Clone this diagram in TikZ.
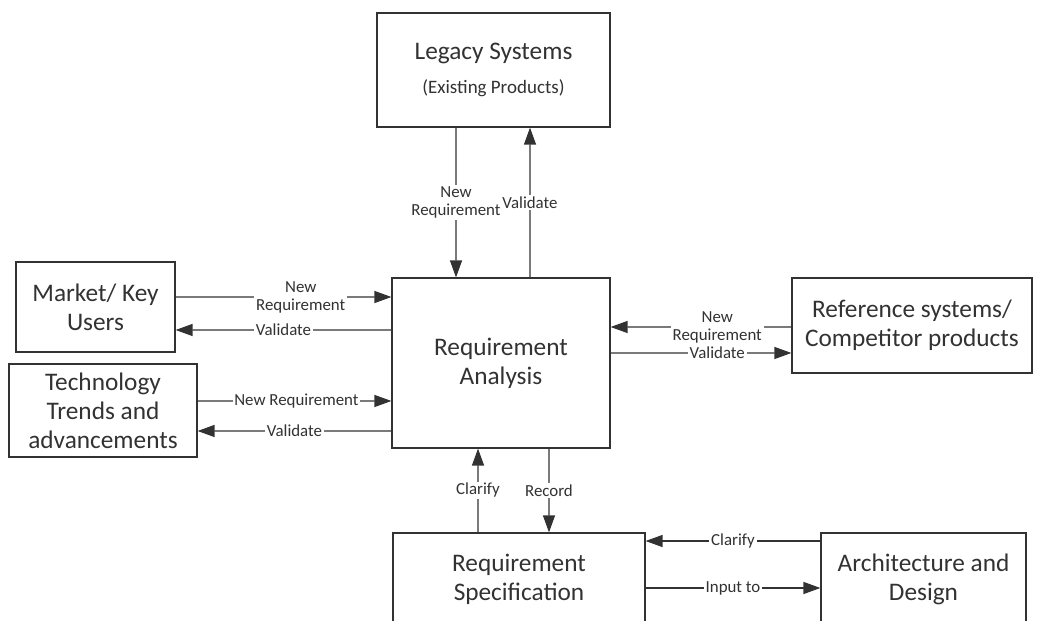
\documentclass[tikz,border=0pt]{standalone}
\usepackage{fontspec}
\setmainfont{Carlito}
\usetikzlibrary{arrows.meta}
\definecolor{inkgray}{RGB}{50,50,50}
\tikzset{
    box/.style={rectangle, draw=inkgray, line width=0.7pt, text=inkgray, align=center, font=\fontsize{14.4}{16.5}\selectfont},
    arr/.style={-{Triangle[length=0.34cm, width=0.24cm]}, line width=0.7pt, color=inkgray},
    lbl/.style={fill=white, inner sep=1pt, align=center, text=inkgray, font=\fontsize{9.6}{10.2}\selectfont}
}
\begin{document}
\begin{tikzpicture}[x=0.02cm, y=-0.02cm]
    \useasboundingbox (0,0) rectangle (1042,621);
    \clip (0,0) rectangle (1042,621);
    % boxes
    \node[box, minimum width=4.66cm, minimum height=2.28cm] (legacy) at (493.5,70) {Legacy Systems\\[3pt]{\fontsize{10.8}{12}\selectfont (Existing Products)}};
    \node[box, minimum width=4.36cm, minimum height=3.4cm] (ra) at (501,363) {Requirement\\Analysis};
    \node[box, minimum width=3.18cm, minimum height=1.8cm] (market) at (95.5,307) {Market/ Key\\Users};
    \node[box, minimum width=3.76cm, minimum height=1.86cm] (tech) at (103,410.5) {Technology\\Trends and\\advancements};
    \node[box, minimum width=4.8cm, minimum height=1.9cm] (refsys) at (912,325.5) {Reference systems/\\Competitor products};
    \node[box, minimum width=5.04cm, minimum height=1.84cm] (spec) at (519,579) {Requirement\\Specification};
    \node[box, minimum width=4.1cm, minimum height=1.84cm] (arch) at (923.5,579) {Architecture and\\Design};
    % connectors
    \draw[arr] ([xshift=-0.75cm]legacy.south) -- node[lbl] {New\\Requirement} ([xshift=-0.9cm]ra.north);
    \draw[arr] ([xshift=0.58cm]ra.north) -- node[lbl] {Validate} ([xshift=0.73cm]legacy.south);
    \draw[arr] ([yshift=0.2cm]market.east) -- node[lbl, pos=0.58] {New\\Requirement} ([yshift=1.32cm]ra.west);
    \draw[arr] ([yshift=0.66cm]ra.west) -- node[lbl] {Validate} ([yshift=-0.46cm]market.east);
    \draw[arr] ([yshift=0.19cm]tech.east) -- node[lbl, pos=0.51] {New Requirement} ([yshift=-0.76cm]ra.west);
    \draw[arr] ([yshift=-1.36cm]ra.west) -- node[lbl] {Validate} ([yshift=-0.41cm]tech.east);
    \draw[arr] ([yshift=-0.03cm]refsys.west) -- node[lbl, pos=0.41] {New\\Requirement} ([yshift=0.72cm]ra.east);
    \draw[arr] ([yshift=0.2cm]ra.east) -- node[lbl, pos=0.59] {Validate} ([yshift=-0.55cm]refsys.west);
    \draw[arr] ([xshift=-0.82cm]spec.north) -- node[lbl] {Clarify} ([xshift=-0.46cm]ra.south);
    \draw[arr] ([xshift=0.96cm]ra.south) -- node[lbl] {Record} ([xshift=0.6cm]spec.north);
    \draw[arr] ([yshift=0.76cm]arch.west) -- node[lbl] {Clarify} ([yshift=0.76cm]spec.east);
    \draw[arr] ([yshift=-0.18cm]spec.east) -- node[lbl] {Input to} ([yshift=-0.18cm]arch.west);
\end{tikzpicture}
\end{document}
